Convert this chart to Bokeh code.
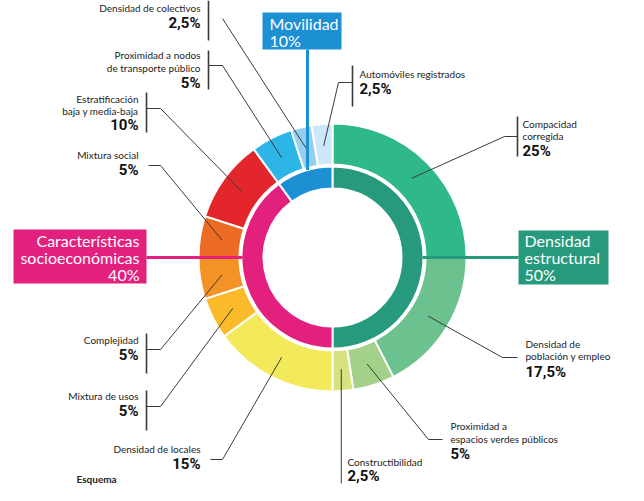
import math
from bokeh.plotting import figure
from bokeh.models import Range1d
from bokeh.embed import file_html
from bokeh.resources import INLINE
from bokeh.core.properties import value

# ---------------- data ----------------
group_lines = [["Densidad", "estructural"], ["Características", "socioeconómicas"], ["Movilidad"]]
group_values = [50, 40, 10]
group_colors = ["#279a7e", "#e4207f", "#1d8fd3"]

indicator_lines = [
    ["Compacidad", "corregida"],
    ["Densidad de", "población y empleo"],
    ["Proximidad a", "espacios verdes públicos"],
    ["Constructibilidad"],
    ["Densidad de locales"],
    ["Mixtura de usos"],
    ["Complejidad"],
    ["Mixtura social"],
    ["Estratificación", "baja y media-baja"],
    ["Proximidad a nodos", "de transporte público"],
    ["Densidad de colectivos"],
    ["Automóviles registrados"],
]
indicator_values = [25, 17.5, 5, 2.5, 15, 5, 5, 5, 10, 5, 2.5, 2.5]
indicator_colors = ["#2fb88a", "#6cc28e", "#a3d18a", "#d6e27e", "#f2ea5a", "#fbba2a",
                    "#f39325", "#ec6b25", "#e3262b", "#2db5e6", "#93cff0", "#cce7f8"]

footer_text = "Esquema"

# ---------------- layout (reference pixel coordinates) ----------------
W, H = 628, 485
CX, CY = 332, 257
R_IN = (69, 91)
R_OUT = (93, 134)
R_LEAD = 112

# align, text x, name line ys, pct y, path after ring point, bar (x, y0, y1)
label_layout = [
    ("left", 522, [123, 135], 150, [(504, 136), (517, 136)], (517, 116, 156)),
    ("left", 525, [343, 355], 371, [(502, 357), (517, 357)], None),
    ("left", 450, [425, 438], 453, [(428, 439), (442, 439)], None),
    ("left", 347, [461], 475, "vertical", None),
    ("right", 200, [448], 463, [(222, 459), (210, 459)], None),
    ("right", 138, [395], 410, [(160, 406), (146, 406)], (146, 390, 430)),
    ("right", 138, [339], 354, [(160, 349), (146, 349)], (146, 333, 373)),
    ("right", 138, [154], 169, [(160, 165), (148, 165)], None),
    ("right", 138, [98, 110], 124, [(160, 108), (146, 108)], (146, 92, 132)),
    ("right", 200, [54, 67], 82, [(222, 65), (208, 65)], (208, 50, 89)),
    ("right", 200, [7], 22, [(222, 18)], (208, 0, 40)),
    ("left", 359, [73], 88, [(338, 82), (352, 82)], (352, 65, 106)),
]

# box (x0, y0, x1, y1), align, text x, line ys
box_layout = [
    ((518, 230, 608, 284), "left", 524, [240, 257, 274]),
    ((13, 229, 146, 283), "right", 139, [240, 257, 274]),
    ((262, 12, 341, 49), "left", 269, [23, 40]),
]

NAME_FONT = "Lato"
PCT_FONT = "Roboto"
BOX_FONT = "Lato"


def Y(y):
    return H - y


def pct(v):
    return f"{v:g}".replace(".", ",") + "%"


p = figure(width=W, height=H, output_backend="svg", toolbar_location=None,
           x_range=Range1d(0, W), y_range=Range1d(0, H), min_border=0)
p.axis.visible = False
p.grid.visible = False
p.outline_line_color = None
p.background_fill_color = "white"


def wedges(values, r0, r1, colors):
    total = sum(values)
    cum = 0.0
    starts, ends, mids = [], [], []
    for v in values:
        a_end = 90 - cum / total * 360
        cum += v
        a_start = 90 - cum / total * 360
        starts.append(math.radians(a_start))
        ends.append(math.radians(a_end))
        mids.append(math.radians((a_start + a_end) / 2))
    p.annular_wedge(x=[CX] * len(values), y=[Y(CY)] * len(values),
                    inner_radius=r0, outer_radius=r1,
                    start_angle=starts, end_angle=ends,
                    fill_color=colors, line_color="white", line_width=2)
    return mids


wedges(group_values, R_IN[0], R_IN[1], group_colors)
mids = wedges(indicator_values, R_OUT[0], R_OUT[1], indicator_colors)

# leader lines and labels
for i, (align, tx, ys, py, path, bar) in enumerate(label_layout):
    sx = CX + R_LEAD * math.cos(mids[i])
    sy = Y(CY) + R_LEAD * math.sin(mids[i])
    xs, yy = [sx], [sy]
    if path == "vertical":
        xs.append(sx)
        yy.append(Y(483))
    else:
        for (px_, py_) in path:
            xs.append(px_)
            yy.append(Y(py_))
    p.line(xs, yy, line_color="#3a3a3a", line_width=1)
    if bar is not None:
        bx, b0, b1 = bar
        p.line([bx, bx], [Y(b0), Y(b1)], line_color="#3a3a3a", line_width=1.6)
    p.text(x=[tx] * len(ys), y=[Y(v) for v in ys], text=indicator_lines[i],
           text_align=align, text_baseline="middle", text_color="#222222",
           text_font=value(NAME_FONT), text_font_size="10px")
    p.text(x=[tx], y=[Y(py)], text=[pct(indicator_values[i])],
           text_align=align, text_baseline="middle", text_color="#111111",
           text_font=value(PCT_FONT), text_font_style="bold", text_font_size="15px")

# group boxes with stems
for i, ((x0, y0, x1, y1), align, tx, ys) in enumerate(box_layout):
    c = group_colors[i]
    if i == 0:
        p.line([CX + R_IN[1] - 1, x0], [Y(CY), Y(CY)], line_color=c, line_width=3)
    elif i == 1:
        p.line([x1, CX - R_IN[1] + 1], [Y(CY), Y(CY)], line_color=c, line_width=3)
    else:
        sx = 307
        sy = CY - math.sqrt(R_IN[1] ** 2 - (CX - sx) ** 2)
        p.line([sx, sx], [Y(y1), Y(sy)], line_color=c, line_width=3)
    p.quad(left=[x0], right=[x1], top=[Y(y0)], bottom=[Y(y1)], fill_color=c, line_color=None)
    lines = group_lines[i] + [pct(group_values[i])]
    p.text(x=[tx] * len(lines), y=[Y(v) for v in ys], text=lines,
           text_align=align, text_baseline="middle", text_color="white",
           text_font=value(BOX_FONT), text_font_size="16px")

p.text(x=[76], y=[Y(484)], text=[footer_text], text_align="left", text_baseline="bottom",
       text_color="#222222", text_font=value(NAME_FONT), text_font_style="bold",
       text_font_size="10px")

open("out.html", "w").write(file_html(p, INLINE))
